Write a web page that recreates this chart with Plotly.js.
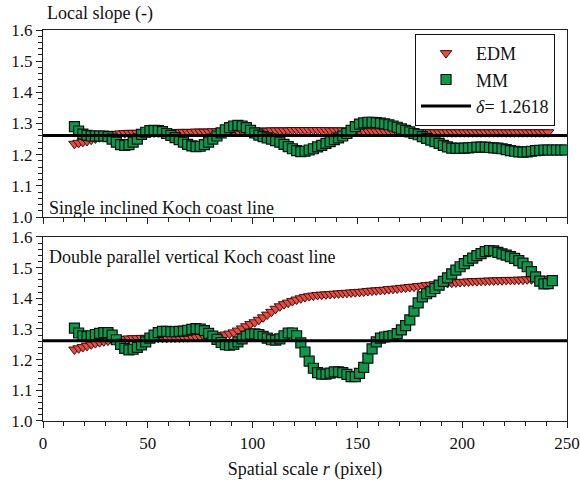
<!DOCTYPE html>
<html>
<head>
<meta charset="utf-8">
<script src="https://cdn.plot.ly/plotly-3.0.1.min.js"></script>
<style>html,body{margin:0;padding:0;background:#fff;}</style>
</head>
<body>
<div id="chart" style="width:580px;height:482px;"></div>
<script>
// ---- data ----
const deltaValue = 1.2618;
const deltaX = [0, 250];

const xEDM = [15,17,19,21,23,25,27,29,31,33,35,37,39,41,43,45,47,49,51,53,55,57,59,61,63,65,67,69,71,73,75,77,79,81,83,85,87,89,91,93,95,97,99,101,103,105,107,109,111,113,115,117,119,121,123,125,127,129,131,133,135,137,139,141,143,145,147,149,151,153,155,157,159,161,163,165,167,169,171,173,175,177,179,181,183,185,187,189,191,193,195,197,199,201,203,205,207,209,211,213,215,217,219,221,223,225,227,229,231,233,235,237,239,241];

const topEDM = [1.235,1.238,1.241,1.244,1.248,1.252,1.256,1.260,1.263,1.265,1.267,1.268,1.269,1.270,1.270,1.270,1.271,1.271,1.271,1.271,1.272,1.272,1.272,1.272,1.272,1.273,1.273,1.273,1.273,1.274,1.274,1.274,1.274,1.275,1.275,1.275,1.275,1.275,1.276,1.276,1.276,1.276,1.276,1.277,1.277,1.277,1.277,1.278,1.278,1.278,1.278,1.278,1.279,1.279,1.279,1.279,1.279,1.279,1.279,1.279,1.279,1.278,1.278,1.278,1.278,1.277,1.277,1.277,1.276,1.276,1.276,1.275,1.275,1.275,1.274,1.274,1.274,1.273,1.273,1.273,1.273,1.272,1.272,1.272,1.272,1.272,1.272,1.272,1.272,1.272,1.272,1.272,1.272,1.272,1.272,1.272,1.272,1.272,1.272,1.272,1.272,1.272,1.272,1.272,1.272,1.272,1.272,1.272,1.272,1.272,1.272,1.272,1.272,1.272];

const xTopMM = [15,17,19,21,23,25,27,29,31,33,35,37,39,41,43,45,47,49,51,53,55,57,59,61,63,65,67,69,71,73,75,77,79,81,83,85,87,89,91,93,95,97,99,101,103,105,107,109,111,113,115,117,119,121,123,125,127,129,131,133,135,137,139,141,143,145,147,149,151,153,155,157,159,161,163,165,167,169,171,173,175,177,179,181,183,185,187,189,191,193,195,197,199,201,203,205,207,209,211,213,215,217,219,221,223,225,227,229,231,233,235,237,239,241,243,245,247,249];

const topMM = [1.290,1.276,1.266,1.262,1.260,1.260,1.260,1.260,1.258,1.250,1.240,1.232,1.230,1.232,1.240,1.250,1.265,1.272,1.277,1.278,1.277,1.274,1.268,1.262,1.255,1.248,1.240,1.233,1.228,1.226,1.227,1.232,1.240,1.250,1.260,1.270,1.280,1.287,1.292,1.294,1.292,1.287,1.278,1.270,1.263,1.258,1.254,1.250,1.245,1.240,1.233,1.226,1.219,1.213,1.210,1.211,1.215,1.219,1.225,1.230,1.236,1.242,1.248,1.254,1.260,1.268,1.278,1.290,1.298,1.302,1.304,1.304,1.303,1.301,1.299,1.296,1.292,1.288,1.283,1.278,1.273,1.268,1.264,1.258,1.252,1.247,1.242,1.236,1.230,1.225,1.221,1.220,1.220,1.221,1.222,1.223,1.224,1.224,1.224,1.223,1.222,1.221,1.219,1.216,1.213,1.211,1.209,1.208,1.209,1.211,1.213,1.214,1.215,1.215,1.215,1.215,1.215,1.215];

const bottomEDM = [1.233,1.237,1.241,1.245,1.250,1.254,1.257,1.260,1.262,1.264,1.266,1.267,1.268,1.269,1.270,1.270,1.271,1.271,1.271,1.271,1.271,1.271,1.271,1.272,1.272,1.272,1.273,1.273,1.274,1.274,1.275,1.275,1.276,1.277,1.278,1.279,1.282,1.285,1.289,1.295,1.302,1.309,1.316,1.322,1.330,1.338,1.347,1.356,1.366,1.374,1.381,1.386,1.391,1.396,1.400,1.404,1.407,1.409,1.411,1.412,1.413,1.414,1.415,1.416,1.417,1.418,1.419,1.420,1.421,1.422,1.424,1.425,1.426,1.427,1.428,1.430,1.431,1.432,1.434,1.435,1.437,1.438,1.440,1.441,1.443,1.444,1.446,1.447,1.448,1.450,1.451,1.452,1.453,1.454,1.455,1.456,1.456,1.457,1.457,1.458,1.458,1.459,1.459,1.460,1.460,1.460,1.461,1.461,1.462,1.462,1.463,1.463,1.463,1.464];

const xBottomMM = [15,17,19,21,23,25,27,29,31,33,35,37,39,41,43,45,47,49,51,53,55,57,59,61,63,65,67,69,71,73,75,77,79,81,83,85,87,89,91,93,95,97,99,101,103,105,107,109,111,113,115,117,119,121,123,125,127,129,131,133,135,137,139,141,143,145,147,149,151,153,155,157,159,161,163,165,167,169,171,173,175,177,179,181,183,185,187,189,191,193,195,197,199,201,203,205,207,209,211,213,215,217,219,221,223,225,227,229,231,233,235,237,239,241,243];

const bottomMM = [1.303,1.287,1.278,1.275,1.278,1.282,1.286,1.288,1.288,1.280,1.265,1.250,1.237,1.232,1.234,1.240,1.248,1.258,1.270,1.280,1.288,1.292,1.292,1.291,1.291,1.292,1.293,1.296,1.299,1.301,1.300,1.295,1.286,1.277,1.266,1.256,1.249,1.247,1.250,1.258,1.268,1.277,1.283,1.284,1.282,1.276,1.270,1.265,1.264,1.268,1.278,1.287,1.287,1.278,1.255,1.225,1.195,1.172,1.158,1.153,1.153,1.156,1.160,1.160,1.158,1.152,1.145,1.145,1.155,1.175,1.205,1.235,1.258,1.270,1.274,1.276,1.278,1.285,1.297,1.311,1.330,1.358,1.385,1.405,1.415,1.422,1.432,1.443,1.455,1.467,1.480,1.492,1.503,1.513,1.523,1.531,1.539,1.546,1.552,1.556,1.555,1.550,1.545,1.541,1.536,1.530,1.523,1.515,1.503,1.487,1.470,1.456,1.447,1.448,1.458];

const seriesNames = ['EDM', 'MM', '<i>δ</i>= 1.2618'];
const panelLabels = ['Single inclined Koch coast line', 'Double parallel vertical Koch coast line'];
const yTickVals = [1.0, 1.1, 1.2, 1.3, 1.4, 1.5, 1.6];
const xTickVals = [0, 50, 100, 150, 200, 250];

// ---- styles ----
const FONT = 'Liberation Serif';
const red = '#ec4a3e';
const green = '#0a9a4a';

const edmMarker = {symbol: 'triangle-down', size: 10, color: red, line: {color: '#3a1010', width: 1}};
const mmMarker = {symbol: 'square', size: 10, color: green, line: {color: '#101010', width: 1.2}};
const deltaLine = {color: '#000', width: 3};

const traces = [
  {x: xEDM, y: topEDM, type: 'scatter', mode: 'markers', name: seriesNames[0], marker: edmMarker, xaxis: 'x', yaxis: 'y', legendgroup: 'e'},
  {x: xTopMM, y: topMM, type: 'scatter', mode: 'markers', name: seriesNames[1], marker: mmMarker, xaxis: 'x', yaxis: 'y', legendgroup: 'm'},
  {x: deltaX, y: [deltaValue, deltaValue], type: 'scatter', mode: 'lines', name: seriesNames[2], line: deltaLine, xaxis: 'x', yaxis: 'y', legendgroup: 'd'},
  {x: xEDM, y: bottomEDM, type: 'scatter', mode: 'markers', name: seriesNames[0], marker: edmMarker, xaxis: 'x2', yaxis: 'y2', showlegend: false, legendgroup: 'e'},
  {x: xBottomMM, y: bottomMM, type: 'scatter', mode: 'markers', name: seriesNames[1], marker: mmMarker, xaxis: 'x2', yaxis: 'y2', showlegend: false, legendgroup: 'm'},
  {x: deltaX, y: [deltaValue, deltaValue], type: 'scatter', mode: 'lines', name: seriesNames[2], line: deltaLine, xaxis: 'x2', yaxis: 'y2', showlegend: false, legendgroup: 'd'}
];

const xAxisBase = {
  range: [0, 250], tickvals: xTickVals, ticks: 'outside', ticklen: 6, tickwidth: 1, tickcolor: '#222',
  minor: {dtick: 10, ticks: 'outside', ticklen: 4, tickcolor: '#222', tickwidth: 1},
  showline: true, linecolor: '#222', linewidth: 1.2, mirror: true, showgrid: false, zeroline: false,
  tickfont: {family: FONT, size: 17, color: '#111'}
};
const yAxisBase = {
  range: [1.0, 1.6], tickvals: yTickVals, tickformat: '.1f', ticks: 'outside', ticklen: 6, tickwidth: 1, tickcolor: '#222',
  minor: {dtick: 0.02, ticks: 'outside', ticklen: 4, tickcolor: '#222', tickwidth: 1},
  showline: true, linecolor: '#222', linewidth: 1.2, mirror: true, showgrid: false, zeroline: false,
  tickfont: {family: FONT, size: 17, color: '#111'}
};

const layout = {
  width: 580, height: 482,
  margin: {l: 43, r: 13, t: 30, b: 61},
  paper_bgcolor: '#fff', plot_bgcolor: '#fff',
  font: {family: FONT, size: 18, color: '#111'},
  showlegend: true,
  legend: {
    x: 0.71, y: 0.99, xanchor: 'left', yanchor: 'top',
    bordercolor: '#111', borderwidth: 1, bgcolor: '#fff',
    font: {family: FONT, size: 18, color: '#111'},
    tracegroupgap: 0, itemwidth: 50
  },
  xaxis: Object.assign({}, xAxisBase, {domain: [0, 1], anchor: 'y', showticklabels: false}),
  yaxis: Object.assign({}, yAxisBase, {domain: [0.5217, 1], anchor: 'x'}),
  xaxis2: Object.assign({}, xAxisBase, {domain: [0, 1], anchor: 'y2', showticklabels: true,
    title: {text: 'Spatial scale <i>r</i> (pixel)', font: {family: FONT, size: 18, color: '#111'}, standoff: 10}}),
  yaxis2: Object.assign({}, yAxisBase, {domain: [0, 0.4706], anchor: 'x2'}),
  annotations: [
    {text: 'Local slope (-)', xref: 'paper', yref: 'paper', x: 0.004, y: 1.041, xanchor: 'left', yanchor: 'middle', showarrow: false, font: {family: FONT, size: 18, color: '#111'}},
    {text: panelLabels[0], xref: 'paper', yref: 'paper', x: 0.008, y: 0.545, xanchor: 'left', yanchor: 'middle', showarrow: false, font: {family: FONT, size: 18, color: '#111'}},
    {text: panelLabels[1], xref: 'paper', yref: 'paper', x: 0.008, y: 0.419, xanchor: 'left', yanchor: 'middle', showarrow: false, font: {family: FONT, size: 18, color: '#111'}}
  ]
};

Plotly.newPlot('chart', traces, layout, {displayModeBar: false, staticPlot: true});
</script>
</body>
</html>
